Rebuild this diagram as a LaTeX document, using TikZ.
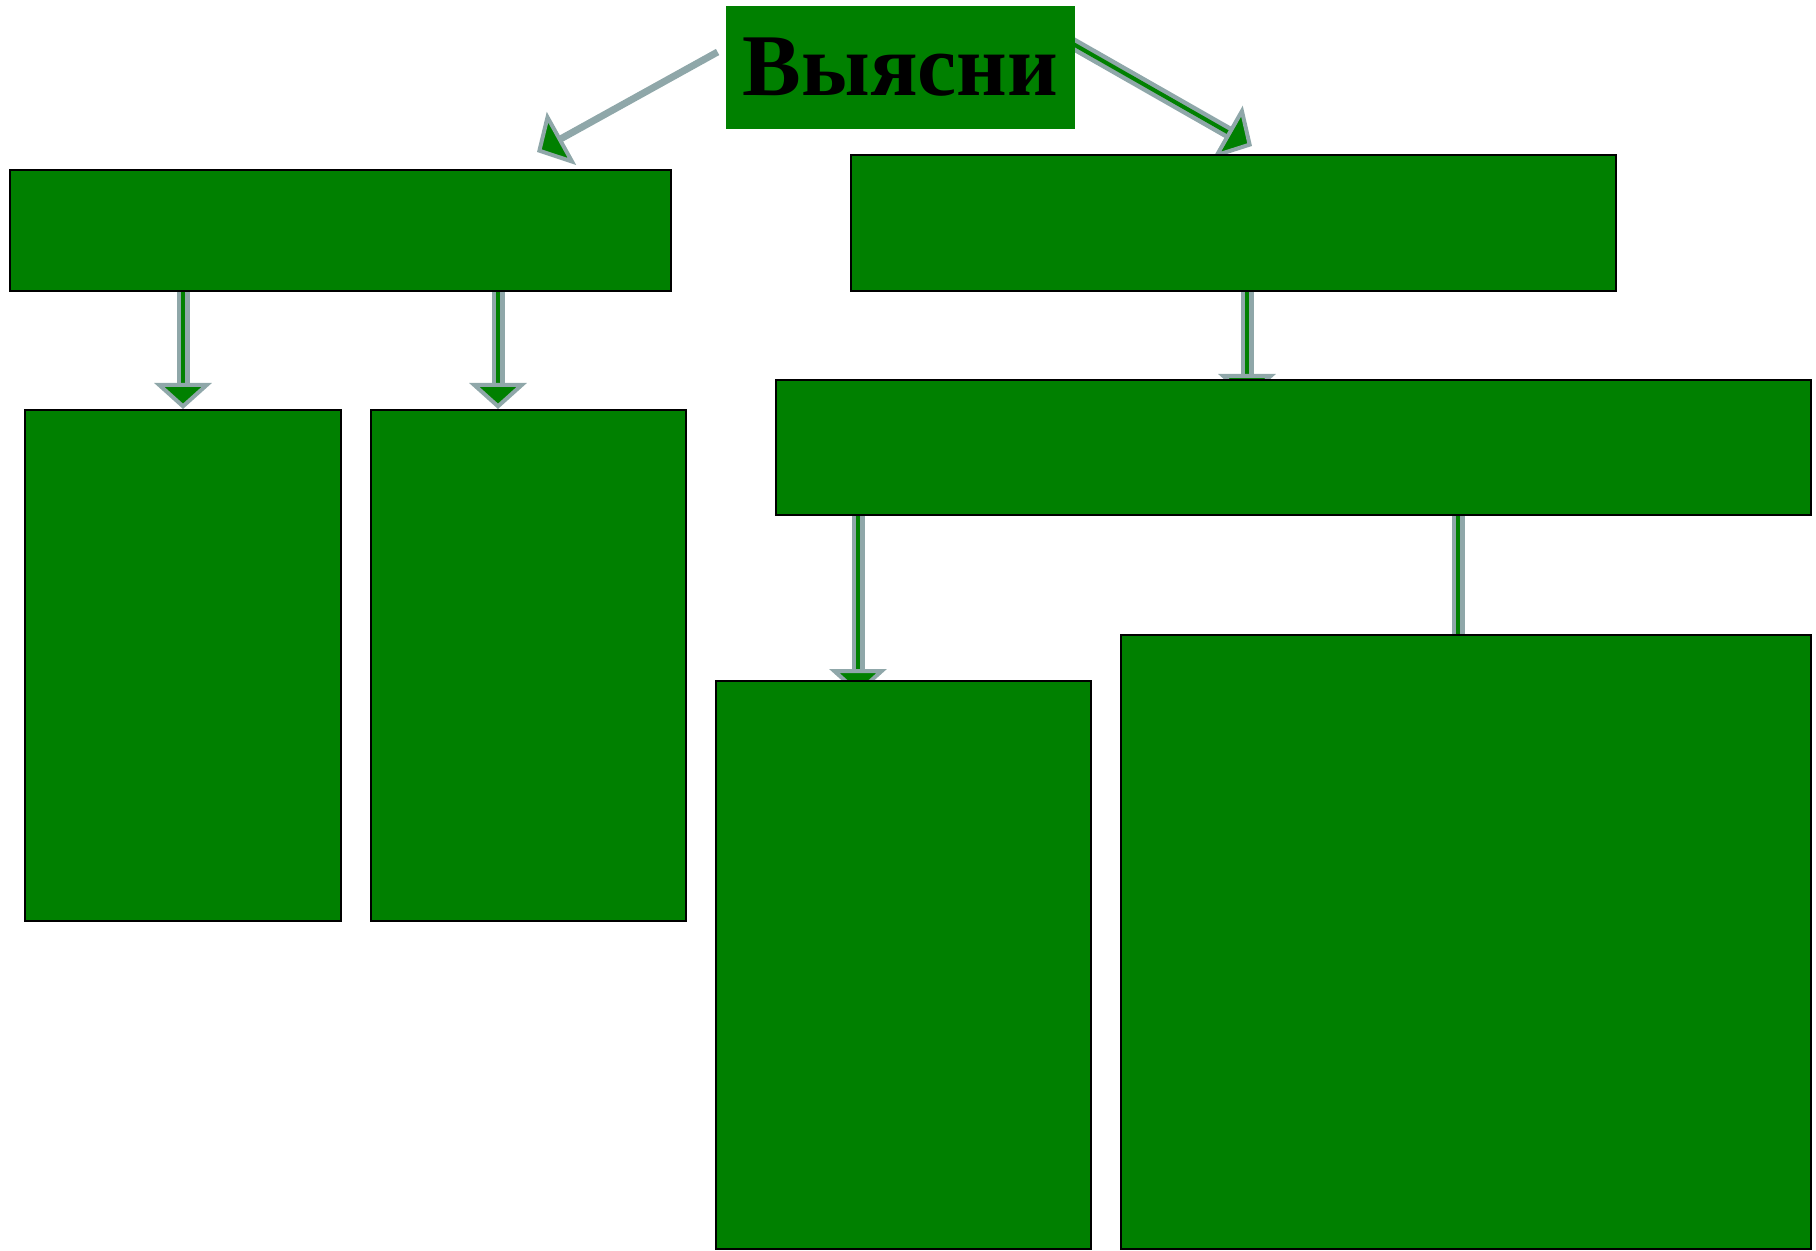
\documentclass[tikz,border=0pt]{standalone}
\usepackage{fontspec}
\setmainfont{Liberation Serif}
\usetikzlibrary{arrows.meta, backgrounds, calc}
\definecolor{boxgreen}{RGB}{0,128,0}
\definecolor{arrowgrey}{RGB}{143,167,169}
\tikzstyle{block} = [draw, line width=1pt, fill=boxgreen, rectangle, inner sep=0pt]
\tikzstyle{title} = [fill=boxgreen, rectangle, inner sep=0pt, font=\bfseries\fontsize{44}{44}\selectfont]
\tikzstyle{link} = [draw=boxgreen, line width=2pt, -{Triangle[length=13pt, width=28.5pt, color=arrowgrey, fill=boxgreen, line width=2pt]}, preaction={draw=arrowgrey, line width=6.5pt, -, shorten >=12pt}]
\tikzstyle{big link} = [link, -{Triangle[length=14pt, width=30pt, color=arrowgrey, fill=boxgreen, line width=2pt]}]
\tikzstyle{thin link} = [draw=arrowgrey, line width=3.5pt, -{Triangle[length=14pt, width=30pt, fill=boxgreen, line width=2pt]}]

\begin{document}
\begin{tikzpicture}[x=0.5pt, y=-0.5pt]
    \useasboundingbox (0,0) rectangle (1816,1251);

    \node (T) [title, minimum width=174.5pt, minimum height=61.5pt] at (900.5,67.5) {Выясни};
    \node (A) [block, minimum width=330.5pt, minimum height=60.5pt] at (340.5,230.5) {};
    \node (B) [block, minimum width=382.5pt, minimum height=68pt] at (1233.5,223) {};
    \node (C) [block, minimum width=158pt, minimum height=255.5pt] at (183,665.5) {};
    \node (D) [block, minimum width=157.5pt, minimum height=255.5pt] at (528.5,665.5) {};
    \node (E) [block, minimum width=517.5pt, minimum height=67.5pt] at (1293.5,447.5) {};
    \node (F) [block, minimum width=187.5pt, minimum height=284pt] at (903.5,965) {};
    \node (G) [block, minimum width=345pt, minimum height=307pt] at (1466,942) {};

    % Arrows.
    \begin{scope}[on background layer]
        \draw [thin link] ($(T.west)+(-8,-15.5)$) -- ($(A.north east)+(-135,-17)$);
        \draw [big link] ($(T.east)+(-4,-24.5)$) -- ($(B.north)+(18.5,-8)$);
        \draw [link] (A.south -| C.north) -- (C.north);
        \draw [link] ($(A.south -| D.north)+(-30.5,0)$) -- ($(D.north)+(-30.5,0)$);
        \draw [link] ($(B.south)+(13.5,0)$) -- ($(B.south |- E.north)+(13.5,21)$);
        \draw [link] ($(E.south -| F.north)+(-45.5,0)$) -- ($(F.north)+(-45.5,15)$);
        \draw [link] ($(E.south -| G.north)+(-8,0)$) -- ($(G.north)+(-8,45)$);
    \end{scope}
\end{tikzpicture}
\end{document}
